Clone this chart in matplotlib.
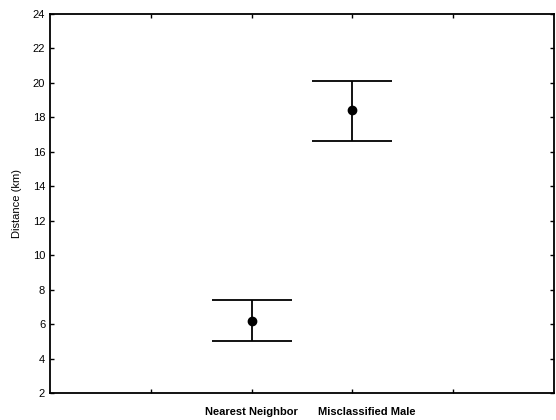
import matplotlib
matplotlib.use('Agg')
import matplotlib.pyplot as plt
import matplotlib.transforms as mtransforms

groups = ['Nearest Neighbor', 'Misclassified Male']
means = [6.2, 18.4]
lower = [5.0, 16.6]
upper = [7.4, 20.1]
positions = [2, 3]

plt.rcParams['font.family'] = ['Liberation Sans', 'DejaVu Sans']

fig = plt.figure(figsize=(5.56, 4.2), dpi=100)
ax = fig.add_axes([0.09, 0.064, 0.9065, 0.903])

yerr = [[m - lo for m, lo in zip(means, lower)], [hi - m for m, hi in zip(means, upper)]]
ax.errorbar(positions, means, yerr=yerr, fmt='o', color='black', markersize=6,
            elinewidth=1.3, capsize=29, capthick=1.3)

ax.set_xlim(0, 5)
ax.set_ylim(2, 24)
ax.set_yticks(range(2, 25, 2))
ax.set_xticks([1, 2, 3, 4])
ax.set_xticklabels(['', groups[0], groups[1], ''], fontweight='bold', fontsize=8)
ax.tick_params(axis='both', direction='in', length=3, width=1, top=True, right=True,
               labelsize=8)
ax.tick_params(axis='x', pad=10)
# second label sits a little right of its tick in the original
lbl = ax.get_xticklabels()[2]
lbl.set_transform(lbl.get_transform() + mtransforms.ScaledTranslation(0.14, 0, fig.dpi_scale_trans))
for s in ax.spines.values():
    s.set_linewidth(1.3)
ax.set_ylabel('Distance (km)', fontsize=8, labelpad=8)

fig.savefig('out.png', dpi=100)
